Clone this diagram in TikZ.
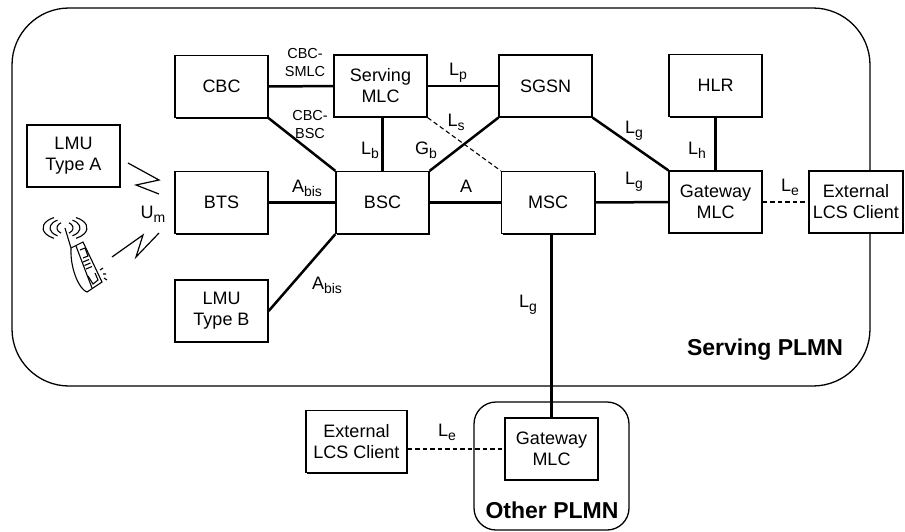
\documentclass[tikz,border=0pt]{standalone}
\usepackage{fontspec}
\setmainfont{Liberation Sans}
\usetikzlibrary{shadows}

\newcommand{\subs}[1]{\raisebox{-4pt}{\fontsize{14}{14}\selectfont #1}}

\tikzset{
    box/.style={draw, line width=1.3pt, fill=white, minimum width=93pt, minimum height=62pt, align=center,
        font=\fontsize{18}{21}\selectfont,
        general shadow={fill=black, shadow xshift=1.2pt, shadow yshift=-1.2pt}},
    plmn/.style={draw, line width=1.3pt},
    link/.style={line width=2.5pt},
    dashlink/.style={line width=1.1pt, dash pattern=on 4.5pt off 3pt},
    radio/.style={line width=1.2pt},
    icon/.style={line width=1.1pt},
    lbl/.style={font=\fontsize{18}{21}\selectfont, inner sep=0pt},
    smalllbl/.style={font=\fontsize{14.5}{18}\selectfont, align=center, inner sep=0pt},
    title/.style={font=\fontsize{23}{26}\bfseries\selectfont, inner sep=0pt}
}

\begin{document}
\begin{tikzpicture}[x=1pt, y=-1pt]
    \useasboundingbox (0, 0) rectangle (905, 531);

    % Networks
    \draw[plmn, rounded corners=57pt] (12, 8) rectangle (870, 386);
    \draw[plmn, rounded corners=22pt] (474, 402) rectangle (629, 530);
    \node[title] (servplmn) at (765, 350) {Serving PLMN};
    \node[title] (otherplmn) at (552, 510) {Other PLMN};

    % Elements
    \node[box] (cbc) at (221.5, 86.5) {CBC};
    \node[box] (mlc) at (380.5, 86) {Serving\\MLC};
    \node[box] (sgsn) at (545.5, 86) {SGSN};
    \node[box] (hlr) at (715.5, 85.5) {HLR};
    \node[box] (lmua) at (73.5, 156) {LMU\\Type A};
    \node[box] (bts) at (221.5, 202.5) {BTS};
    \node[box] (bsc) at (382.5, 202.5) {BSC};
    \node[box] (msc) at (548, 202.5) {MSC};
    \node[box] (gmlc) at (715.5, 202) {Gateway\\MLC};
    \node[box, minimum width=94pt] (ext) at (856, 202) {External\\LCS Client};
    \node[box] (lmub) at (221.5, 311) {LMU\\Type B};
    \node[box] (othermlc) at (551.5, 449) {Gateway\\MLC};
    \node[box, minimum width=101pt] (othext) at (356.5, 441.5) {External\\LCS Client};

    % Links
    \draw[link] (cbc) -- (mlc);
    \draw[link] (mlc) -- (sgsn);
    \draw[link] (cbc.south east) -- (bsc.north west);
    \draw[link] (mlc.south -| bsc.north) -- (bsc.north);
    \draw[link] (bsc.north east) -- (sgsn.south west);
    \draw[link] (sgsn.south east) -- (gmlc.north west);
    \draw[link] (hlr) -- (gmlc);
    \draw[link] (bts) -- (bsc);
    \draw[link] (bsc) -- (msc);
    \draw[link] (msc) -- (gmlc);
    \draw[link] (lmub.east) -- (bsc.south west);
    \draw[link] (msc.south -| othermlc.north) -- (othermlc.north);
    \draw[dashlink] (mlc.south east) -- (msc.north west);
    \draw[dashlink] (gmlc) -- (ext);
    \draw[dashlink] (othermlc.west -| othext.east) -- (othermlc.west);

    % Link labels
    \node[smalllbl] (cbcsmlc) at (305, 63) {CBC-\\SMLC};
    \node[smalllbl] (cbcbsc) at (310, 125) {CBC-\\BSC};
    \node[lbl] (lp) at (458, 73) {L\subs{p}};
    \node[lbl] (ls) at (456, 122) {L\subs{s}};
    \node[lbl] (lb) at (370, 150) {L\subs{b}};
    \node[lbl] (gb) at (426, 150) {G\subs{b}};
    \node[lbl] (abisa) at (307, 188) {A\subs{bis}};
    \node[lbl] (a) at (466, 186) {A};
    \node[lbl] (abisb) at (327, 285) {A\subs{bis}};
    \node[lbl] (lgs) at (634, 131) {L\subs{g}};
    \node[lbl] (lgm) at (634, 182) {L\subs{g}};
    \node[lbl] (lh) at (697, 150) {L\subs{h}};
    \node[lbl] (le) at (790, 187) {L\subs{e}};
    \node[lbl] (lgv) at (528, 305) {L\subs{g}};
    \node[lbl] (leo) at (447, 432) {L\subs{e}};
    \node[lbl] (um) at (153, 214) {U\subs{m}};

    % Radio paths
    \coordinate (radioa) at (128, 163);
    \coordinate (radiob) at (112, 257);
    \coordinate (radiobts) at (159, 194);
    \coordinate (radiobtsb) at (159, 233);
    \draw[radio] (radioa) -- (159, 180) -- (136, 185) -- (radiobts);
    \draw[radio] (radiob) -- (143, 235) -- (136, 257) -- (radiobtsb);

    % Mobile
    \draw[icon] (65, 228) -- (71, 248);
    \foreach \r/\s in {8/6, 15/9, 22/12} {
        \draw[icon] (65, 228) ++(-\r*0.5, -\s*0.87) arc[start angle=120, end angle=240, x radius=\r pt, y radius=\s pt];
        \draw[icon] (65, 228) ++(\r*0.5, -\s*0.87) arc[start angle=60, end angle=-60, x radius=\r pt, y radius=\s pt];
    }
    \draw[icon, fill=white] (71, 248) -- (83, 242) -- (102, 282) -- (87, 292)
        .. controls (80, 290) and (70, 270) .. (71, 248);
    \draw[icon] (76, 246) -- (92, 288);
    \draw[icon] (80, 250) -- (85, 248) -- (88, 256) -- (83, 258);
    \draw[icon] (88, 276) -- (93, 284) -- (98, 280) -- (95, 273);
    \foreach \k in {0, 1, 2} {
        \draw[icon] (83 + 1.5*\k, 262 + 3.5*\k) -- (89 + 1.5*\k, 259.5 + 3.5*\k);
    }
    \draw[icon] (100, 270) -- (103, 268) (103, 274) -- (106, 274) (104, 278) -- (107, 280);
\end{tikzpicture}
\end{document}
